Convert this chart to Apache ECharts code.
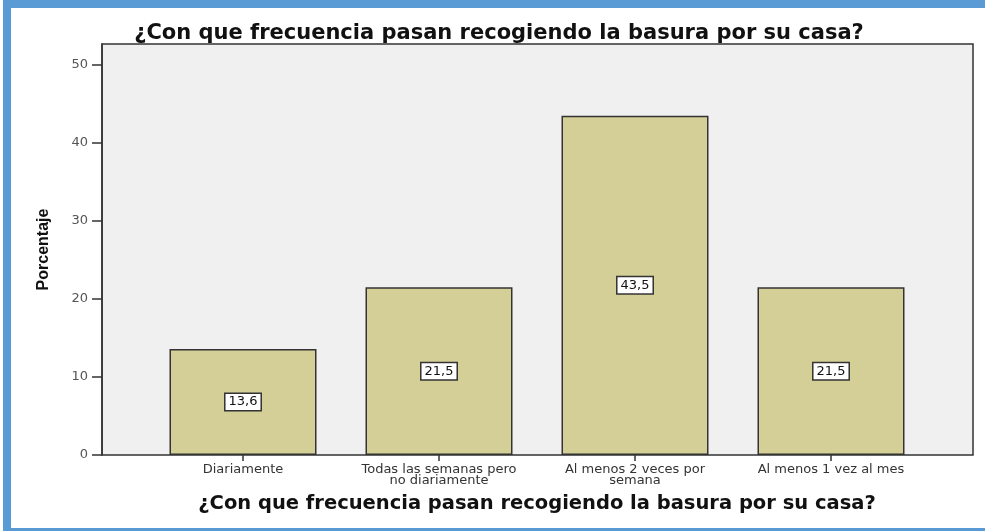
<!DOCTYPE html>
<html>
<head>
<meta charset="utf-8">
<script src="https://cdn.jsdelivr.net/npm/echarts@6/dist/echarts.min.js"></script>
<style>
html,body{margin:0;padding:0;background:#fff;}
#chart{position:absolute;left:0;top:0;width:985px;height:531px;}
#frame{position:absolute;left:3px;top:0;width:980px;height:520px;border-left:8px solid #5b9bd5;border-top:8px solid #5b9bd5;border-right:2px solid #5b9bd5;border-bottom:3px solid #5b9bd5;pointer-events:none;}
</style>
</head>
<body>
<div id="chart"></div>
<div id="frame"></div>
<script>
const titleText = '¿Con que frecuencia pasan recogiendo la basura por su casa?';
const categories = ['Diariamente', 'Todas las semanas pero\nno diariamente', 'Al menos 2 veces por\nsemana', 'Al menos 1 vez al mes'];
const values = [13.6, 21.5, 43.5, 21.5];
const yTicks = [0, 10, 20, 30, 40, 50];
const yName = 'Porcentaje';

const chart = echarts.init(document.getElementById('chart'));
chart.setOption({
  animation: false,
  backgroundColor: '#fff',
  title: {
    text: titleText,
    left: 494, textAlign: 'center', top: 18,
    textStyle: {fontFamily: 'DejaVu Sans', fontWeight: 'bold', fontSize: 21, color: '#111'}
  },
  grid: [
    {left: 102, right: 12, top: 44, bottom: 76, show: true, backgroundColor: '#f0f0f0', borderColor: '#333', borderWidth: 1.5},
    {left: 145, right: 56, top: 44, bottom: 76}
  ],
  xAxis: [
    {type: 'category', gridIndex: 0, data: ['a'], show: false},
    {type: 'category', gridIndex: 1, data: categories,
     name: titleText, nameLocation: 'middle', nameGap: 39,
     nameTextStyle: {fontFamily: 'DejaVu Sans', fontWeight: 'bold', fontSize: 19.5, color: '#111'},
     axisLine: {show: false},
     axisTick: {show: true, alignWithLabel: true, length: 6, lineStyle: {color: '#333', width: 1.5}},
     axisLabel: {fontFamily: 'DejaVu Sans', fontSize: 13, color: '#333', lineHeight: 11, margin: 9, interval: 0}
    }
  ],
  yAxis: [
    {type: 'value', gridIndex: 0, min: 0, max: 52.69,
     name: yName, nameLocation: 'middle', nameRotate: 90, nameGap: 50,
     nameTextStyle: {fontFamily: 'Liberation Sans', fontWeight: 'bold', fontSize: 16, color: '#111'},
     splitLine: {show: false},
     axisLine: {show: true, lineStyle: {color: '#333', width: 1.5}},
     axisTick: {show: true, length: 10, customValues: yTicks, lineStyle: {color: '#333', width: 1.5}},
     axisLabel: {customValues: yTicks, fontFamily: 'DejaVu Sans', fontSize: 13, color: '#555', margin: 14}
    },
    {type: 'value', gridIndex: 1, min: 0, max: 52.69, show: false}
  ],
  series: [{
    type: 'bar', xAxisIndex: 1, yAxisIndex: 1,
    data: values, barWidth: '75%',
    itemStyle: {color: '#d3cf96', borderColor: '#333', borderWidth: 1.5},
    label: {
      show: true, position: 'inside',
      formatter: p => String(p.value).replace('.', ','),
      fontFamily: 'DejaVu Sans', fontSize: 13, color: '#111',
      backgroundColor: '#fff', borderColor: '#333', borderWidth: 1.5,
      padding: [2, 3, 1, 3]
    }
  }]
});
</script>
</body>
</html>
